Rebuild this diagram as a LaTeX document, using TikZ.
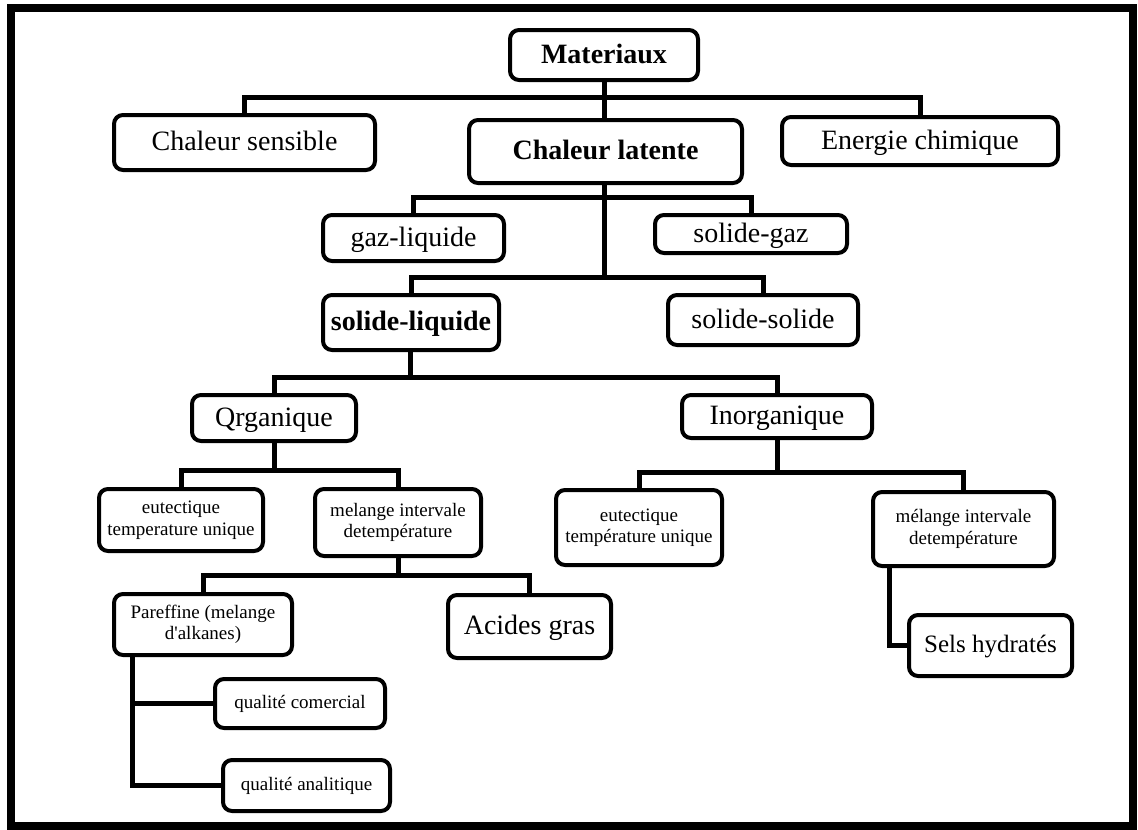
\documentclass[tikz,border=0pt]{standalone}
\usepackage{fontspec}
\setmainfont{Liberation Serif}
\begin{document}
\begin{tikzpicture}[x=1pt,y=-1pt,
  box/.style={draw=black,line width=4pt,rounded corners=9pt,fill=white,inner sep=2pt},
  big/.style={font=\fontsize{28}{32}\selectfont,text height=21pt,text depth=5pt},
  bigb/.style={font=\fontsize{28}{32}\selectfont\bfseries,text height=21pt,text depth=5pt},
  small/.style={font=\fontsize{19}{21.5}\selectfont,align=center},
  mid/.style={font=\fontsize{25}{29}\selectfont,text height=19pt,text depth=5pt},
  conn/.style={draw=black,line width=5pt,line join=miter}]
\useasboundingbox (0,0) rectangle (1138,830);
\draw[line width=8pt] (10.5,8) rectangle (1132.5,826);

% nodes
\node[box,bigb,minimum width=188pt,minimum height=50pt] (mat) at (604,55) {Materiaux};
\node[box,big,minimum width=261pt,minimum height=55pt] (cs) at (244.5,142.5) {Chaleur sensible};
\node[box,bigb,minimum width=273pt,minimum height=63pt] (cl) at (605.5,151.5) {Chaleur latente};
\node[box,big,minimum width=276pt,minimum height=48pt] (ec) at (920,141) {Energie chimique};
\node[box,big,minimum width=181pt,minimum height=46pt] (gl) at (413.5,238) {gaz-liquide};
\node[box,big,minimum width=192pt,minimum height=38pt] (sg) at (751,234) {solide-gaz};
\node[box,bigb,minimum width=176pt,minimum height=55pt] (sl) at (411,322.5) {solide-liquide};
\node[box,big,minimum width=190pt,minimum height=50pt] (ss) at (763,320) {solide-solide};
\node[box,big,minimum width=164pt,minimum height=46pt] (org) at (274,418) {Qrganique};
\node[box,big,minimum width=190pt,minimum height=43pt] (inorg) at (777,416.5) {Inorganique};
\node[box,small,minimum width=164pt,minimum height=62pt] (eul) at (181,520) {eutectique\\temperature unique};
\node[box,small,minimum width=166pt,minimum height=67pt] (mel) at (398,522.5) {melange intervale\\detempérature};
\node[box,small,minimum width=166pt,minimum height=75pt] (eur) at (639,527.5) {eutectique\\température unique};
\node[box,small,minimum width=181pt,minimum height=74pt] (mer) at (963.5,529) {mélange intervale\\detempérature};
\node[box,small,minimum width=178pt,minimum height=61pt] (par) at (203,624.5) {Pareffine (melange\\d\textquotesingle alkanes)};
\node[box,big,minimum width=163pt,minimum height=63pt] (ag) at (529.5,626.5) {Acides gras};
\node[box,mid,minimum width=163pt,minimum height=61pt] (sels) at (990.5,645.5) {Sels hydratés};
\node[box,small,minimum width=170pt,minimum height=49pt] (qc) at (300,703.5) {qualité comercial};
\node[box,small,minimum width=167pt,minimum height=51pt] (qa) at (306.5,785.5) {qualité analitique};

% bus coordinates
\coordinate (b1) at (604,97);
\coordinate (b2) at (604,197);
\coordinate (b3) at (604,277);
\coordinate (b4) at (410,377);
\coordinate (b5) at (274,470);
\coordinate (b6) at (777,472);
\coordinate (b7) at (398,575);
\coordinate (m1) at (889,0);
\coordinate (p1) at (132,0);

\draw[conn] (mat.south) -- (b1);
\draw[conn] (cs.north) |- (b1) -| (ec.north);
\draw[conn] (b1) -- (b1 |- cl.north);
\draw[conn] (b2 |- cl.south) -- (b3);
\draw[conn] (gl.north) |- (b2) -| (sg.north);
\draw[conn] (sl.north) |- (b3) -| (ss.north);
\draw[conn] (b4 |- sl.south) -- (b4);
\draw[conn] (org.north) |- (b4) -| (inorg.north);
\draw[conn] (org.south) -- (b5);
\draw[conn] (eul.north) |- (b5) -| (mel.north);
\draw[conn] (inorg.south) -- (b6);
\draw[conn] (eur.north) |- (b6) -| (mer.north);
\draw[conn] (mel.south) -- (b7);
\draw[conn] (par.north) |- (b7) -| (ag.north);
\draw[conn] (m1 |- mer.south) |- (sels.west);
\draw[conn] (p1 |- par.south) |- (qa.west);
\draw[conn] (p1 |- qc.west) -- (qc.west);
\end{tikzpicture}
\end{document}
